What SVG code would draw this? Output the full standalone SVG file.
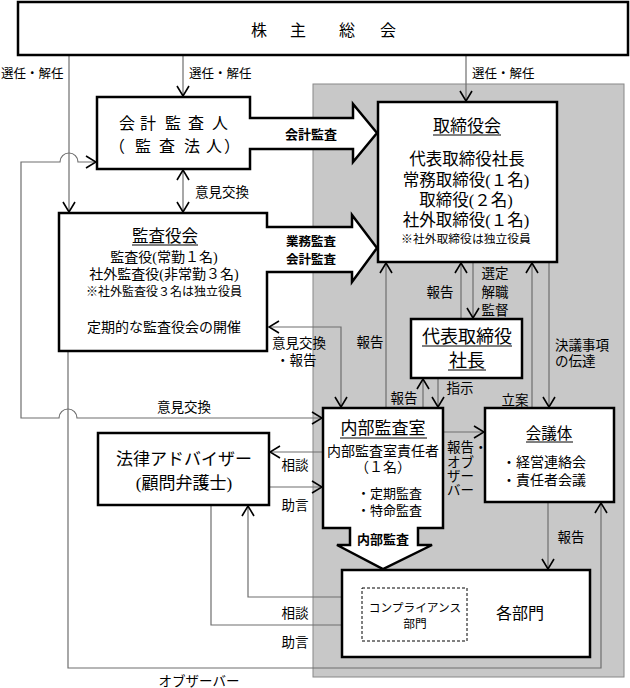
<svg xmlns="http://www.w3.org/2000/svg" width="630" height="688" viewBox="0 0 630 688">
<style>
text{font-family:"Liberation Serif","Noto Sans CJK JP",serif;fill:#000;dominant-baseline:central;text-anchor:middle}
.box{fill:#fff;stroke:#000;stroke-width:2.5}
.c{fill:none;stroke:#6e6e6e;stroke-width:1.2}
.ul{stroke:#000;stroke-width:1}
.lb{font-size:13.5px}
.sm{font-size:12.5px}
.bd{font-size:13px;font-weight:bold;font-family:"Noto Sans CJK JP",sans-serif}
.st{text-anchor:start}
</style>
<defs>
<marker id="a" viewBox="0 0 12 14" refX="11" refY="7" markerWidth="12" markerHeight="14" markerUnits="userSpaceOnUse" orient="auto-start-reverse">
<path d="M1,1 L11,7 L1,13" fill="none" stroke="#000" stroke-width="1.6"/>
</marker>
</defs>
<rect id="area" x="313" y="84" width="311" height="593" fill="#c8c8c8" stroke="#888" stroke-width="1"/>

<g id="connectors">
<path class="c" d="M69,55 V212" marker-end="url(#a)"/>
<path class="c" d="M183,55 V96" marker-end="url(#a)"/>
<path class="c" d="M466,55 V101" marker-end="url(#a)"/>
<path class="c" d="M183,170 V212" marker-start="url(#a)" marker-end="url(#a)"/>
<path class="c" d="M96,162 H78 A9,9 0 0 0 60,162 H21 V418 H59 A9,9 0 0 1 77,418 H322" marker-start="url(#a)" marker-end="url(#a)"/>
<path class="c" d="M68,352 V668 H601 V503" marker-end="url(#a)"/>
<path class="c" d="M269,327 H341 V407" marker-start="url(#a)" marker-end="url(#a)"/>
<path class="c" d="M386,407 V263" marker-end="url(#a)"/>
<path class="c" d="M461,318 V263" marker-end="url(#a)"/>
<path class="c" d="M473,263 V318" marker-end="url(#a)"/>
<path class="c" d="M532,407 V263" marker-end="url(#a)"/>
<path class="c" d="M549,263 V407" marker-end="url(#a)"/>
<path class="c" d="M423,407 V379" marker-end="url(#a)"/>
<path class="c" d="M438,379 V407" marker-end="url(#a)"/>
<path class="c" d="M444,432 H484" marker-end="url(#a)"/>
<path class="c" d="M548,503 V569" marker-end="url(#a)"/>
<path class="c" d="M322,452 H270" marker-end="url(#a)"/>
<path class="c" d="M270,487 H322" marker-end="url(#a)"/>
<path class="c" d="M362,597 H248 V506" marker-end="url(#a)"/>
<path class="c" d="M211,506 V625 H361" marker-end="url(#a)"/>
<text class="sm st" x="1" y="74">選任・解任</text>
<text class="sm st" x="189" y="74">選任・解任</text>
<text class="sm st" x="472" y="74">選任・解任</text>
<text class="lb st" x="195" y="192">意見交換</text>
<text class="lb" x="184" y="407">意見交換</text>
<text class="lb st" x="272" y="343">意見交換</text>
<text class="lb st" x="276" y="360">・報告</text>
<text class="lb" x="370" y="342">報告</text>
<text class="lb" x="440" y="292">報告</text>
<text class="lb" x="495" y="273">選定</text>
<text class="lb" x="495" y="292">解職</text>
<text class="lb" x="495" y="310">監督</text>
<text class="lb st" x="555" y="345">決議事項</text>
<text class="lb st" x="555" y="361">の伝達</text>
<text class="lb" x="515" y="400">立案</text>
<text class="lb" x="404" y="398">報告</text>
<text class="lb" x="460" y="388">指示</text>
<text class="lb st" x="447" y="447">報告・</text>
<text class="lb st" x="447" y="462">オブ</text>
<text class="lb st" x="447" y="476">ザー</text>
<text class="lb st" x="447" y="490">バー</text>
<text class="lb" x="571" y="537">報告</text>
<text class="lb" x="295" y="465">相談</text>
<text class="lb" x="295" y="505">助言</text>
<text class="lb" x="295" y="613">相談</text>
<text class="lb" x="295" y="642">助言</text>
<text class="lb" x="199" y="681">オブザーバー</text>
</g>

<g id="shareholders">
<rect class="box" x="18" y="2" width="610" height="53"/>
<text style="font-size:16px" x="259 298 347 388" y="30">株主総会</text>
</g>

<g id="accounting-auditor">
<path class="box" d="M97,97 H250 V118 H353 V104 L377,133 L353,162 V149 H250 V169 H97 Z"/>
<text style="font-size:16px" x="127 148 173 196 220" y="123">会計監査人</text>
<text style="font-size:16px" x="117 143 167 192 214 232" y="146">（監査法人）</text>
<text class="bd" x="311" y="133">会計監査</text>
</g>

<g id="audit-board">
<path class="box" d="M59,213 H267 V227 H352 V215 L377,248 L352,282 V272 H267 V351 H59 Z"/>
<text style="font-size:16.5px" x="165" y="236">監査役会</text>
<line class="ul" x1="132" y1="245" x2="198" y2="245"/>
<text style="font-size:14px" x="164" y="257">監査役(常勤１名)</text>
<text style="font-size:14px" x="164" y="274">社外監査役(非常勤３名)</text>
<text style="font-size:12px" x="164" y="292">※社外監査役３名は独立役員</text>
<text style="font-size:14px" x="164" y="327">定期的な監査役会の開催</text>
<text class="bd" style="font-size:12.5px" x="311" y="240">業務監査</text>
<text class="bd" style="font-size:12.5px" x="311" y="258">会計監査</text>
</g>

<g id="board">
<rect class="box" x="378" y="102" width="179" height="160"/>
<text style="font-size:17px" x="467" y="126">取締役会</text>
<line class="ul" x1="433" y1="135" x2="501" y2="135"/>
<text style="font-size:16.5px" x="467" y="159">代表取締役社長</text>
<text style="font-size:16.5px" x="466" y="180">常務取締役(１名)</text>
<text style="font-size:16.5px" x="466" y="200">取締役(２名)</text>
<text style="font-size:16.5px" x="466" y="220">社外取締役(１名)</text>
<text style="font-size:11.8px" x="466" y="239">※社外取締役は独立役員</text>
</g>

<g id="president">
<rect class="box" x="411" y="319" width="111" height="59"/>
<text style="font-size:18px" x="467" y="337">代表取締役</text>
<line class="ul" x1="422" y1="346" x2="512" y2="346"/>
<text style="font-size:18px" x="467" y="361">社長</text>
<line class="ul" x1="448" y1="370" x2="486" y2="370"/>
</g>

<g id="internal-audit">
<path class="box" d="M323,408 H443 V528 H418 V545 H432 L383,569 L337,545 H350 V528 H323 Z"/>
<text style="font-size:17px" x="383" y="428">内部監査室</text>
<line class="ul" x1="340" y1="438" x2="427" y2="438"/>
<text style="font-size:14px" x="383" y="451">内部監査室責任者</text>
<text style="font-size:14px" x="383" y="467">（１名）</text>
<text style="font-size:13px" class="st" x="357" y="493">・定期監査</text>
<text style="font-size:13px" class="st" x="357" y="510">・特命監査</text>
<text class="bd" x="383" y="538">内部監査</text>
</g>

<g id="meetings">
<rect class="box" x="485" y="408" width="129" height="94"/>
<text style="font-size:15.5px" x="549" y="433">会議体</text>
<line class="ul" x1="526" y1="442" x2="573" y2="442"/>
<text style="font-size:14px" class="st" x="502" y="462">・経営連絡会</text>
<text style="font-size:14px" class="st" x="502" y="480">・責任者会議</text>
</g>

<g id="legal-advisor">
<rect class="box" x="98" y="433" width="171" height="72"/>
<text style="font-size:17px" x="184" y="459">法律アドバイザー</text>
<text style="font-size:17px" x="184" y="483">(顧問弁護士)</text>
</g>

<g id="departments">
<rect class="box" x="342" y="570" width="248" height="87"/>
<text style="font-size:16px" x="520" y="613">各部門</text>
</g>

<g id="compliance">
<rect x="362" y="588" width="105" height="53" fill="#fff" stroke="#000" stroke-width="1" stroke-dasharray="3,2"/>
<text style="font-size:11.7px" x="415" y="608">コンプライアンス</text>
<text style="font-size:11.7px" x="415" y="624">部門</text>
</g>
</svg>
